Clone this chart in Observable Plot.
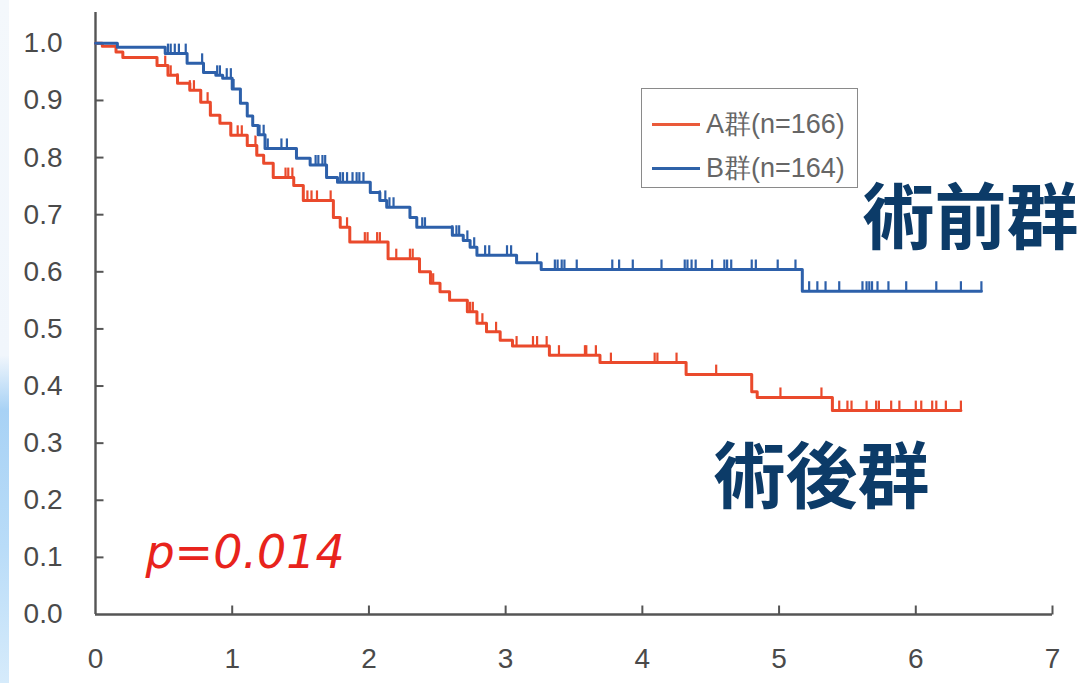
<!DOCTYPE html>
<html><head><meta charset="utf-8">
<script src="https://cdn.jsdelivr.net/npm/d3@7"></script>
<script src="https://cdn.jsdelivr.net/npm/@observablehq/plot@0.6"></script>
<style>
body{margin:0;background:#fff;}
#wrap{position:relative;width:1086px;height:683px;overflow:hidden;font-family:"Liberation Sans",Arial,sans-serif;}
#strip{position:absolute;left:0;top:0;width:9px;height:683px;background:linear-gradient(to bottom,#f4f8fc 0%,#f1f6fc 52%,#a8d2f5 60%,#b9dcf8 80%,#d6ebfb 100%);}
#chart{position:absolute;left:0;top:0;}
#legend{position:absolute;left:641px;top:88px;width:217px;height:100px;border:1px solid #8a8a8a;box-sizing:border-box;background:#fff;}
.row{position:absolute;left:10px;height:32px;display:flex;align-items:center;font-size:27px;color:#666;}
.sw{width:48px;height:3px;margin-right:6px;}
</style></head>
<body>
<div id="wrap"><div id="strip"></div><div id="chart"></div>
<div id="legend">
 <div class="row" style="top:19px"><div class="sw" style="background:#ea5a3a"></div>A群(n=166)</div>
 <div class="row" style="top:63px"><div class="sw" style="background:#2f62a8"></div>B群(n=164)</div>
</div>
</div>
<script>
// Group A (術後群, red): event times (years) and survival after each step
const aTimes = [0,0.05,0.15,0.2,0.45,0.53,0.60,0.69,0.77,0.84,0.91,0.99,1.11,1.18,1.23,1.30,1.45,1.52,1.74,1.79,1.86,2.14,2.37,2.45,2.52,2.59,2.72,2.79,2.86,2.96,3.05,3.32,3.69,4.32,4.80,4.84,5.39];
const aSurv  = [1.0,0.995,0.985,0.975,0.961,0.944,0.93,0.918,0.897,0.874,0.86,0.839,0.821,0.804,0.79,0.765,0.751,0.725,0.695,0.678,0.652,0.623,0.60,0.58,0.565,0.55,0.53,0.51,0.495,0.48,0.47,0.454,0.441,0.42,0.39,0.38,0.357];
const aEnd = 6.33;
const aCensor = [0.51,0.55,0.60,0.69,0.72,0.77,0.82,0.84,0.99,1.04,1.07,1.17,1.18,1.39,1.41,1.44,1.55,1.58,1.62,1.72,1.84,1.97,1.99,2.06,2.08,2.20,2.30,2.32,2.45,2.47,2.74,2.76,2.83,2.93,3.08,3.20,3.23,3.30,3.39,3.58,3.59,3.66,3.77,4.09,4.11,4.25,4.54,5.01,5.31,5.44,5.50,5.53,5.64,5.71,5.73,5.82,5.88,6.00,6.04,6.12,6.15,6.22,6.33];

// Group B (術前群, blue)
const bTimes = [0,0.16,0.51,0.67,0.79,0.88,0.93,1.00,1.06,1.11,1.15,1.19,1.24,1.47,1.57,1.69,1.77,2.01,2.08,2.13,2.30,2.35,2.61,2.69,2.74,2.79,3.08,3.26,5.17];
const bSurv  = [1.0,0.993,0.982,0.965,0.949,0.944,0.939,0.92,0.895,0.873,0.856,0.84,0.816,0.799,0.787,0.765,0.757,0.739,0.725,0.713,0.695,0.678,0.664,0.655,0.643,0.629,0.616,0.604,0.566];
const bEnd = 6.48;
const bCensor = [0.53,0.55,0.58,0.61,0.66,0.78,0.89,0.91,0.96,0.99,1.01,1.20,1.23,1.26,1.36,1.40,1.61,1.63,1.66,1.68,1.79,1.81,1.84,1.88,1.91,1.93,1.96,2.08,2.12,2.15,2.18,2.39,2.41,2.61,2.64,2.66,2.72,2.77,2.85,2.88,3.01,3.04,3.23,3.36,3.38,3.41,3.43,3.52,3.78,3.83,3.93,4.14,4.31,4.33,4.36,4.39,4.51,4.60,4.62,4.65,4.80,4.83,4.99,5.12,5.22,5.28,5.34,5.44,5.61,5.64,5.66,5.68,5.72,5.80,5.93,6.15,6.33,6.48];

const xTicks = [0,1,2,3,4,5,6,7];
const yTicks = [0,0.1,0.2,0.3,0.4,0.5,0.6,0.7,0.8,0.9,1.0];

const RED = "#ea4a2c", BLUE = "#2d60aa";
const AXIS_FONT = "'Liberation Sans Narrow', 'Liberation Sans', Arial, sans-serif";

function steps(times, surv, end){
  const pts = times.map((t,i)=>({t, s: surv[i]}));
  pts.push({t: end, s: surv[surv.length-1]});
  return pts;
}
function censored(times, surv, cens){
  return cens.map(t => ({t, s: surv[d3.bisectRight(times, t) - 1]}));
}
const aLine = steps(aTimes, aSurv, aEnd), bLine = steps(bTimes, bSurv, bEnd);
const aCens = censored(aTimes, aSurv, aCensor), bCens = censored(bTimes, bSurv, bCensor);

const tickUp = {draw(ctx, size){ const l = Math.sqrt(size/Math.PI); ctx.moveTo(0,0); ctx.lineTo(0,-l); }};
const tickRight = {draw(ctx, size){ const l = Math.sqrt(size/Math.PI); ctx.moveTo(0,0); ctx.lineTo(l,0); }};

const chart = Plot.plot({
  width: 1086, height: 683,
  marginLeft: 95, marginRight: 34, marginTop: 12, marginBottom: 69,
  style: {fontFamily: AXIS_FONT, background: "transparent", color: "#4a4a4a"},
  x: {domain: [0, 7], label: null},
  y: {domain: [0, 1.054], label: null},
  marks: [
    Plot.axisX(xTicks, {tickSize: 0, tickPadding: 34, fontSize: 28, fill: "#4a4a4a", tickFormat: d3.format("d"), label: null, fontFamily: AXIS_FONT}),
    Plot.axisY(yTicks, {tickSize: 0, tickPadding: 33, fontSize: 28, fill: "#4a4a4a", tickFormat: d3.format(".1f"), label: null, fontFamily: AXIS_FONT}),
    Plot.ruleX([0], {stroke: "#555", strokeWidth: 2.4}),
    Plot.ruleY([0], {stroke: "#555", strokeWidth: 2.4}),
    Plot.dot(xTicks.slice(1), {x: d=>d, y: 0, symbol: tickUp, r: 9, stroke: "#555", strokeWidth: 2, fill: "none"}),
    Plot.dot(yTicks.slice(1), {x: 0, y: d=>d, symbol: tickRight, r: 8, stroke: "#555", strokeWidth: 2, fill: "none"}),
    Plot.line(aLine, {x: "t", y: "s", curve: "step-after", stroke: RED, strokeWidth: 3}),
    Plot.line(bLine, {x: "t", y: "s", curve: "step-after", stroke: BLUE, strokeWidth: 3}),
    Plot.dot(aCens, {x: "t", y: "s", symbol: tickUp, r: 10, stroke: RED, strokeWidth: 2.2, fill: "none"}),
    Plot.dot(bCens, {x: "t", y: "s", symbol: tickUp, r: 10, stroke: BLUE, strokeWidth: 2.2, fill: "none"}),
    Plot.text(["術前群"], {x: 6.40, y: 0.69, text: d=>d, fontSize: 72, fontWeight: "bold", fill: "#0c3b68", fontFamily: "'Noto Sans CJK JP', sans-serif"}),
    Plot.text(["術後群"], {x: 5.31, y: 0.238, text: d=>d, fontSize: 72, fontWeight: "bold", fill: "#0c3b68", fontFamily: "'Noto Sans CJK JP', sans-serif"}),
    Plot.text(["p=0.014"], {x: 0.365, y: 0.107, text: d=>d, textAnchor: "start", fontSize: 46, fontStyle: "italic", fill: "#e8231c", fontFamily: "'DejaVu Sans', sans-serif"})
  ]
});
document.getElementById("chart").appendChild(chart);
</script>
</body></html>
